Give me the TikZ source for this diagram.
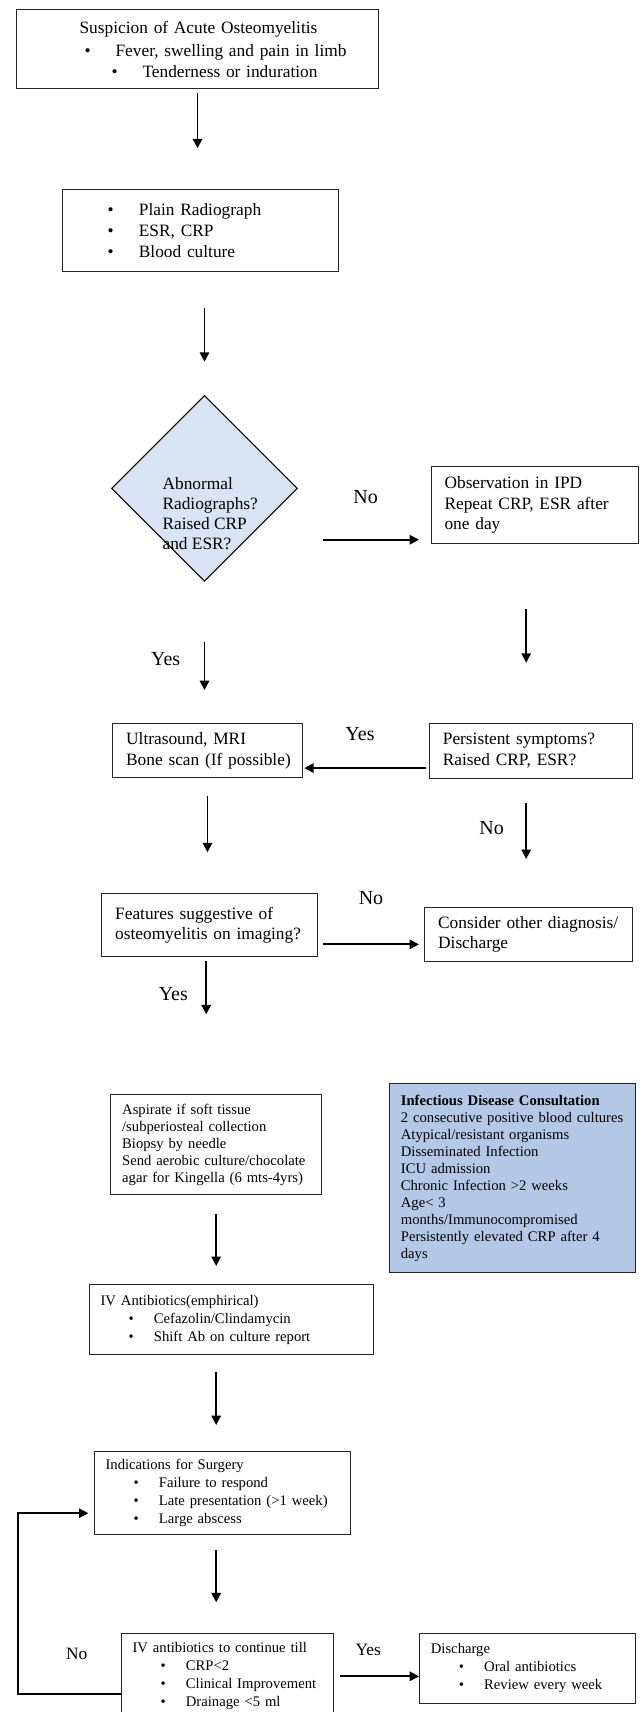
\documentclass[tikz,border=0pt]{standalone}
\usepackage{fontspec}
\setmainfont{Liberation Serif}
\usetikzlibrary{shapes.geometric,arrows.meta}
\definecolor{decblue}{HTML}{DAE3F3}
\definecolor{idblue}{HTML}{B4C7E7}
\newcommand\bigtxt{\fontsize{13pt}{15.5pt}\selectfont}
\newcommand\midtxt{\fontsize{11pt}{13.4pt}\selectfont}
\newcommand\smalltxt{\fontsize{11pt}{12.75pt}\selectfont}
\newcommand\labtxt{\fontsize{15pt}{18pt}\selectfont}
\newcommand\bline[3]{\hspace*{#1}\makebox[#2][l]{\textbullet}#3}

\begin{document}
\begin{tikzpicture}[x=0.75pt, y=-0.75pt,
    box/.style={draw=black!85, line width=0.8pt, anchor=north west, align=left, inner ysep=1pt},
    bigbox/.style={box, font=\bigtxt, inner xsep=10pt},
    midbox/.style={box, font=\midtxt, inner xsep=8.5pt},
    smallbox/.style={box, font=\smalltxt, inner xsep=8.5pt},
    arr/.style={line width=1.4pt, -{Triangle[length=7pt,width=7pt]}},
    lab/.style={font=\labtxt, inner sep=0pt}]
      \fill[white] (0,0) rectangle (639,1712);
      \useasboundingbox (0,0) rectangle (639,1712);
      \node[bigbox, text width=251.5pt, minimum height=59.25pt] (top) at (16,9)
        {\hspace*{37.3pt}Suspicion of Acute Osteomyelitis\\[2pt]\bline{41pt}{23.3pt}{Fever, swelling and pain in limb}\\\bline{61.3pt}{23.2pt}{Tenderness or induration}};
      \node[bigbox, text width=187pt, minimum height=61.3pt] (tests) at (61.7,189.3)
        {\bline{24pt}{23.5pt}{Plain Radiograph}\\\bline{24pt}{23.5pt}{ESR, CRP}\\\bline{24pt}{23.5pt}{Blood culture}};
      \node[draw, shape=diamond, fill=decblue, line width=0.8pt, minimum width=139.5pt, minimum height=139.5pt, inner sep=0pt] (dec) at (204.5,488.3) {};
      \node[font={\fontsize{13pt}{15pt}\selectfont}, align=left, inner sep=0pt, anchor=north west] (dectxt) at (162.3,477.2)
        {Abnormal\\Radiographs?\\Raised CRP\\and ESR?};
      \node[bigbox, text width=135.7pt, minimum height=57.5pt] (obs) at (430.7,466)
        {Observation in IPD\\Repeat CRP, ESR after\\one day};
      \node[bigbox, text width=122pt, minimum height=41pt] (ultra) at (112.3,722.7)
        {Ultrasound, MRI\\\mbox{Bone scan (If possible)}};
      \node[bigbox, text width=132pt, minimum height=41.5pt] (persist) at (429,722.7)
        {Persistent symptoms?\\Raised CRP, ESR?};
      \node[bigbox, text width=142pt, minimum height=47pt] (feat) at (101.3,893.3)
        {Features suggestive of\\\mbox{osteomyelitis on imaging?}};
      \node[bigbox, text width=135.5pt, minimum height=40.7pt] (cons) at (424.3,906.7)
        {\mbox{Consider other diagnosis/}\\Discharge};
      \node[smallbox, text width=141pt, minimum height=75pt] (asp) at (110.3,1094.3)
        {Aspirate if soft tissue\\/subperiosteal collection\\Biopsy by needle\\Send aerobic culture/chocolate\\agar for Kingella (6 mts-4yrs)};
      \node[smallbox, fill=idblue, text width=167.5pt, minimum height=141.75pt] (idc) at (389,1083.3)
        {\textbf{Infectious Disease Consultation}\\2 consecutive positive blood cultures\\Atypical/resistant organisms\\Disseminated Infection\\ICU admission\\Chronic Infection >2 weeks\\Age< 3\\months/Immunocompromised\\Persistently elevated CRP after 4\\days};
      \node[midbox, text width=196.5pt, minimum height=52.7pt] (iv) at (88.7,1284)
        {IV Antibiotics(emphirical)\\\bline{21pt}{19pt}{Cefazolin/Clindamycin}\\\bline{21pt}{19pt}{Shift Ab on culture report}};
      \node[midbox, text width=175pt, minimum height=62.5pt] (ind) at (93.7,1451)
        {Indications for Surgery\\\bline{21pt}{19pt}{Failure to respond}\\\bline{21pt}{19pt}{Late presentation (>1 week)}\\\bline{21pt}{19pt}{Large abscess}};
      \node[midbox, text width=142.5pt, minimum height=63.6pt] (ivc) at (120.7,1633.3)
        {IV antibiotics to continue till\\\bline{21pt}{19pt}{CRP<2}\\\bline{21pt}{19pt}{Clinical Improvement}\\\bline{21pt}{19pt}{Drainage <5 ml}};
      \node[midbox, text width=145pt, minimum height=52.2pt] (disc) at (419,1633)
        {Discharge\\\bline{21pt}{19pt}{Oral antibiotics}\\\bline{21pt}{19pt}{Review every week}};
      \node[lab] (no1) at (365.7,496.7) {No};
      \node[lab] (yes1) at (165.7,659.3) {Yes};
      \node[lab] (yes2) at (360,734.3) {Yes};
      \node[lab] (no2) at (491.7,828.3) {No};
      \node[lab] (no3) at (371,898.5) {No};
      \node[lab] (yes3) at (173.3,994.3) {Yes};
      \node[lab, font=\bigtxt] (no4) at (76.7,1654.3) {No};
      \node[lab, font=\bigtxt] (yes4) at (368.3,1650.3) {Yes};
      \coordinate (loop) at (18.3,1694);
      \draw[arr, shorten <=2.8pt, shorten >=30.8pt] (top.south) -- (top.south |- tests.north);
      \draw[arr, shorten <=27.2pt, shorten >=24.8pt] (dec.north |- tests.south) -- (dec.north);
      \draw[arr, shorten <=18.5pt, shorten >=8.8pt] ([yshift=3pt]dec.east |- obs.south) -- ([yshift=3pt]obs.south west);
      \draw[arr, shorten <=45pt, shorten >=24.5pt] (dec.south) -- (dec.south |- ultra.north);
      \draw[arr, shorten <=49.2pt, shorten >=45pt] ([xshift=-3.5pt]persist.north |- obs.south) -- ([xshift=-3.5pt]persist.north);
      \draw[arr, shorten <=2.2pt, shorten >=1.2pt] ([yshift=8.25pt]persist.south west) -- ([yshift=8.25pt]persist.south west -| ultra.east);
      \draw[arr, shorten <=17.8pt, shorten >=35.8pt] ([xshift=-3.5pt]persist.south) -- ([xshift=-3.5pt]persist.south |- cons.north);
      \draw[arr, shorten <=13.3pt, shorten >=30.8pt] (ultra.south) -- (ultra.south |- feat.north);
      \draw[arr, shorten <=3.75pt, shorten >=4pt] ([yshift=9.5pt]feat.south east) -- ([yshift=9.5pt]feat.south east -| cons.west);
      \draw[arr, shorten <=3pt, shorten >=60pt] ([xshift=-2.7pt]feat.south) -- ([xshift=-2.7pt]feat.south |- asp.north);
      \draw[arr, shorten <=14.25pt, shorten >=13.5pt] (asp.south) -- (asp.south |- iv.north);
      \draw[arr, shorten <=12.5pt, shorten >=19.5pt] (iv.south -| asp.south) -- (ind.north -| asp.south);
      \draw[arr, shorten <=11.25pt, shorten >=23.25pt] (ind.south -| asp.south) -- (ivc.north -| asp.south);
      \draw[arr, shorten >=4pt] (ivc.west |- loop) -- (loop) |- ([yshift=-15pt]ind.west);
      \draw[arr, shorten <=4.3pt] ([yshift=-6pt]disc.west -| ivc.east) -- ([yshift=-6pt]disc.west);
\end{tikzpicture}
\end{document}
